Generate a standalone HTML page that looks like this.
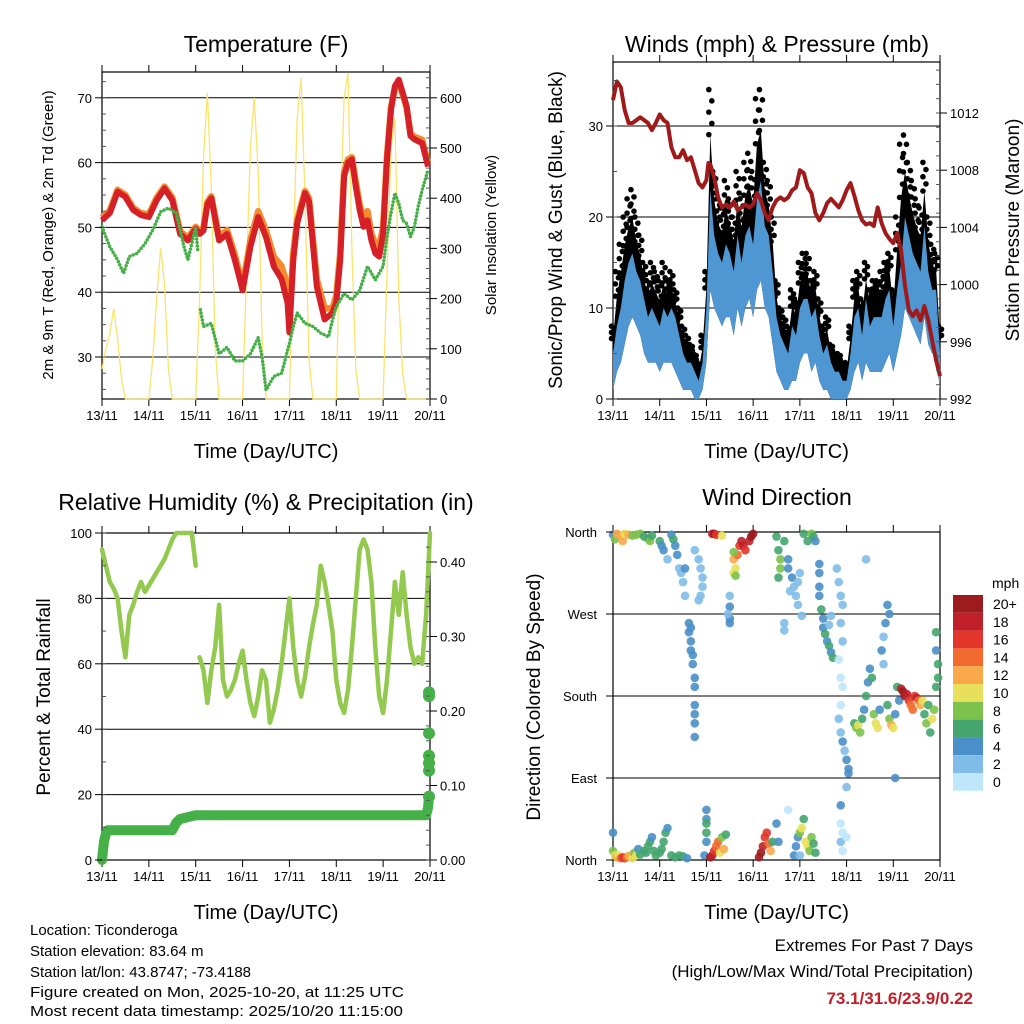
<!DOCTYPE html>
<html><head><meta charset="utf-8">
<style>
html,body{margin:0;padding:0;background:#fff;}
svg{display:block;font-family:"Liberation Sans",sans-serif;}
</style></head>
<body>
<svg id="chart" width="1024" height="1024" viewBox="0 0 1024 1024" xmlns="http://www.w3.org/2000/svg">
<rect x="0" y="0" width="1024" height="1024" fill="#fff"/>
<g id="g1"></g>
<g id="g2"></g>
<g id="g3"></g>
<g id="g4"></g>
<g font-size="15" fill="#000">
<text x="30" y="935">Location: Ticonderoga</text>
<text x="30" y="956">Station elevation: 83.64 m</text>
<text x="30" y="977">Station lat/lon: 43.8747; -73.4188</text>
<text x="30" y="997" textLength="374" lengthAdjust="spacingAndGlyphs">Figure created on Mon, 2025-10-20, at 11:25 UTC</text>
<text x="30" y="1016" textLength="373" lengthAdjust="spacingAndGlyphs">Most recent data timestamp: 2025/10/20 11:15:00</text>
</g>
<g text-anchor="end">
<text x="973" y="951" font-size="17">Extremes For Past 7 Days</text>
<text x="973" y="977" font-size="17">(High/Low/Max Wind/Total Precipitation)</text>
<text x="973" y="1004" font-size="17" font-weight="bold" fill="#c0202a">73.1/31.6/23.9/0.22</text>
</g>
</svg>
<script>
// ---------- DATA ----------
const dayLabels = ["13/11","14/11","15/11","16/11","17/11","18/11","19/11","20/11"];
const tHours = [0,4,8,12,16,20,24,28,32,36,40,44,48,50,52,54,56,60,64,68,72,76,80,84,88,92,95,96,98,100,104,106,110,114,118,120,122,124,126,128,130,132,134,136,138,140,142,144,146,148,150,152,154,156,158,160,164,167];
const temp2m = [51.1,52.2,55.5,54.7,52.7,51.9,51.6,54.2,56,54.2,49,48,49.8,49,49.5,53.6,54.5,48,49,45,40.3,47,51.6,48.5,44,42,38.4,33.8,45,50.6,55.3,54,40.9,35.8,36.8,38.4,45,57.9,60,60.5,56.3,52.7,50.1,51.1,48,46,45.5,49,60.5,68.2,71.8,72.8,70.8,68.7,64.1,63.6,63,59.4];
const temp9m = [51.5,52.6,55.8,55,53,52.2,52,54.6,56.3,54.6,49.4,48.4,50.1,49.4,50,53.9,54.8,48.5,49.6,45.8,41,48,52.5,49.5,45.5,44,41,36,46,51.2,55.6,54.5,42,37.5,37.5,39.5,46,58.5,60.5,60.8,57,53.5,51.5,52.5,49,47.5,47,50,61,68.5,71.5,72.5,70.5,68.5,64.5,64,63.5,60];
const tdHours = [0,4,8,11,14,18,22,26,30,34,38,40,42,44,46,48,49];
const dew2mA = [50.1,47,45,42.9,45.5,46,47.5,49.6,52.4,53,52.2,49.6,47,45,47.5,50.1,46.5];
const tdHoursB = [50.4,52,56,60,64,68,72,76,80,82,84,88,92,96,98,100,104,108,112,116,118,120,124,128,132,136,140,144,146,148,150,152,154,156,158,160,162,164,167];
const dew2mB = [37.3,34.7,35.2,30.5,31.5,29.4,29.4,30.5,33,30,24.9,27,27.5,32.1,34.7,36.8,35.2,34.7,33.7,33.1,35.7,37.8,39.8,38.8,40.3,44,41.9,44,48.6,52.2,55.3,53.7,51.1,50.6,48.6,50.1,53.3,55.8,58.9];
const solarHours = [0,2,4,6,8,10,12,22,24,26,28,30,32,34,36,48,50,52,54,56,58,60,72,74,76,78,80,82,84,96,98,100,102,104,106,108,120,122,124,126,128,130,132,144,146,148,150,152,154,156,168];
const solarVals = [60,100,130,180,120,40,0,0,0,80,200,300,230,60,0,0,200,480,610,420,100,0,0,250,500,600,450,120,0,0,300,560,640,400,80,0,0,350,600,650,300,60,0,0,250,500,560,200,50,0,0];

const wHours = [];
for (let i = 0; i <= 84; i++) wHours.push(i * 2);
const windHi = [5,8,10,13,15,16,14,13,11,9,10,9,8,10,9,10,9,7,5,4,4,3,2,4,10,23,18,16,15,17,16,14,18,15,18,19,17,22,24,19,18,14,9,7,6,5,8,7,10,11,11,9,10,7,5,6,4,3,3,2,2,5,9,10,7,11,8,9,9,9,11,12,8,12,15,20,18,16,15,14,19,14,12,12,5];
const windLo = [1,3,4,6,8,9,8,7,5,4,4,4,3,4,4,4,3,2,1,1,1,0,0,1,4,12,10,9,8,9,9,7,10,8,10,11,9,12,13,10,9,6,3,2,1,1,2,2,4,5,5,3,4,2,1,1,0,0,0,0,0,1,3,4,2,4,3,3,3,3,4,5,3,5,7,10,9,8,7,6,9,6,5,5,1];
const windGust = [8,14,17,20,22,23,20,18,15,13,15,14,13,15,13,14,12,10,8,7,6,5,4,7,14,34,25,22,21,24,22,20,25,22,26,27,25,33,34,26,24,20,13,10,9,8,12,11,15,16,16,13,14,11,8,9,6,5,5,4,4,8,13,14,11,15,12,13,13,14,15,16,12,20,28,29,26,24,22,21,26,20,17,16,8];
const presHours = [0,2,4,6,8,10,12,14,16,18,20,22,24,26,28,30,32,34,36,38,40,42,44,46,48,49,50,52,54,56,58,60,62,64,66,68,70,72,74,76,78,80,82,84,86,88,90,92,94,96,98,100,102,104,106,108,110,112,114,116,118,120,122,124,126,128,130,132,134,136,138,140,142,144,146,148,150,152,154,156,158,160,162,164,166,168];
const pressure = [1012.9,1014.2,1013.8,1012.2,1011.3,1011.3,1011.5,1011.7,1011.5,1011.3,1010.8,1011.3,1011.9,1011.5,1011.3,1009.6,1008.9,1008.9,1009.4,1008.7,1008.9,1008,1007.1,1006.8,1007.3,1008.5,1008.4,1007.5,1006.1,1005.4,1005.6,1005.4,1005.8,1005.2,1005.4,1005.6,1005.4,1005.6,1006.4,1005.9,1005,1004.5,1005.4,1005.9,1006.1,1005.9,1006.1,1006.6,1006.8,1008,1007.8,1006.8,1006.4,1005,1004.5,1005,1005.7,1006,1005.7,1005.4,1005.9,1006.6,1007.1,1006.2,1005.2,1004.5,1004.2,1004.3,1004.1,1005.4,1004.3,1003.6,1003.2,1002.9,1003.6,1002.4,999.9,998.2,997.8,998.2,997.5,998.5,997.5,996.1,994.7,993.6];

const rhHours = [0,2,4,6,8,10,12,14,16,18,20,22,24,26,28,30,32,34,36,38,40,42,44,46,48];
const rhA = [95,90,85,83,80,70,62,75,78,82,85,82,84,86,88,90,92,95,98,100,100,100,100,100,90];
const rhHoursB = [];
for (let i = 25; i <= 84; i++) rhHoursB.push(i * 2);
const rhB = [62,58,48,58,65,78,55,50,52,55,60,64,55,48,44,50,58,55,42,46,52,60,70,80,65,55,50,56,65,72,78,90,85,78,70,55,48,45,52,65,80,95,98,95,85,65,50,45,55,70,85,75,88,75,65,60,62,60,75,100];
const prHours = [0,1,2,3,36,38,40,48,166,167,167.5];
const precipIn = [0,0.025,0.035,0.04,0.04,0.05,0.055,0.06,0.06,0.07,0.085];
const precipDotsIn = [0.085,0.12,0.13,0.14,0.17,0.22,0.225];

const dirPoints = [
[0,357,5],[1,352,8],[2,358,12],[4,356,13],[5,350,12],[6,358,10],[8,357,12],[10,356,9],[12,357,8],[14,358,9],[16,355,7],[18,353,7],[19,350,8],[20,356,6],[24,350,6],[25,345,4],[26,340,4],[30,357,5],[31,352,6],[32,345,4],[33,335,4],[34,320,3],[35,315,3],[36,305,2],[37,290,3],[28,330,3],[37,320,4],
[44,330,2],[45,320,2],[46,310,2],[46,300,2],[45,290,2],[44,285,2],[42,340,2],
[39,260,4],[39,250,4],[40,240,4],[40,230,4],[41,215,4],[42,200,4],[42,190,4],[42,170,4],[42,160,4],[42,150,4],[42,135,4],[40,255,4],[41,225,4],
[51,358,18],[52,358,20],[53,357,16],[56,356,10],
[62,330,12],[63,320,10],[64,335,14],[65,345,16],[66,350,18],[67,345,18],[68,340,16],[70,350,18],[71,355,20],[72,358,20],[62,315,10],[63,312,8],[62,338,8],
[60,278,4],[60,265,4],[60,260,4],[59,270,2],[60,290,2],
[84,355,6],[85,340,6],[86,330,8],[86,320,8],[85,310,6],[88,350,6],[90,330,4],[90,320,4],[92,310,4],[93,300,2],[94,290,2],[95,305,2],[96,315,2],[91,295,2],[88,260,2],[88,252,2],[95,280,2],[97,268,2],[98,358,6],[100,350,6],[102,358,8],[103,355,6],[104,350,4],[106,325,4],[106,315,4],[106,300,4],[106,290,4],
[107,275,6],[108,265,4],[108,255,4],[109,248,6],[110,240,4],[111,235,6],[112,228,4],[113,222,6],[111,258,2],[112,268,2],
[115,320,2],[116,305,2],[117,290,2],[118,280,2],[117,260,2],[118,240,2],[116,220,0],[117,200,0],[118,190,0],[117,170,0],[116,155,2],[117,140,2],[118,130,4],[119,120,2],[120,110,4],[121,100,4],[121,95,4],[120,80,2],[117,60,4],[117,40,0],[118,30,0],[117,20,2],[118,10,0],[120,25,0],[130,330,2],
[124,150,6],[125,145,8],[126,148,10],[127,140,8],[128,155,6],[129,165,4],[130,180,6],[131,195,4],[132,210,4],[133,200,6],[134,160,8],[135,150,10],[136,145,10],[137,165,4],[138,230,4],[139,245,2],[140,260,4],[139,215,2],[141,170,6],[142,155,8],[143,148,12],[144,145,10],[145,160,4],[146,190,6],[147,175,4],[145,90,4],[141,280,4],[142,270,4],
[148,188,18],[149,185,20],[150,180,20],[151,182,18],[152,175,16],[153,170,14],[154,165,14],[155,180,16],[156,178,18],[157,175,14],[158,170,12],[159,175,10],[160,160,6],[161,150,8],[162,170,6],[163,140,6],[164,155,10],[165,165,8],[166,190,6],[166,230,4],[166,250,6],[167,215,6],[167,200,6],
[0,10,8],[1,5,10],[2,3,12],[3,5,10],[4,2,14],[5,3,16],[6,2,16],[7,3,14],[8,4,12],[9,5,12],[10,2,10],[11,8,8],[12,5,10],[13,12,4],[14,6,6],[16,10,6],[17,8,6],[18,15,6],[19,20,6],[20,25,4],[21,10,6],[22,5,6],[24,8,6],[25,12,6],[26,20,6],[27,30,6],[28,35,4],[30,5,6],[32,3,6],[34,5,6],[36,4,6],[38,2,4],[0,30,4],
[47,5,4],[48,20,4],[48,30,6],[48,45,4],[48,55,4],[48,40,6],
[50,3,20],[51,5,18],[52,10,16],[53,15,14],[54,20,14],[55,8,10],[56,25,8],[57,12,12],[58,28,6],
[75,3,20],[76,8,20],[77,15,18],[78,25,16],[79,30,16],[80,18,14],[81,10,12],[82,20,6],[84,40,4],[85,20,4],
[93,5,4],[94,15,4],[95,25,4],[96,30,8],[97,35,10],[98,45,6],[99,20,10],[100,15,10],[101,10,8],[102,25,8],[103,18,6],[104,8,6],[96,5,2],[90,55,0]
];
const speedLevels = ["20+","18","16","14","12","10","8","6","4","2","0"];
const speedColors = ["#9b1b1e","#c0202a","#e2352b","#f26a2d","#f9a84a","#e8e05a","#7cc24c","#44a56e","#4a8fc8","#7fbde8","#bfe6fa"];

// ---------- helpers ----------
const NS = "http://www.w3.org/2000/svg";
function mk(parent, tag, attrs, text) {
  const e = document.createElementNS(NS, tag);
  for (const k in attrs) e.setAttribute(k, attrs[k]);
  if (text !== undefined) e.textContent = text;
  parent.appendChild(e);
  return e;
}
function pts(xs, ys, fx, fy) { return xs.map((h, i) => fx(h).toFixed(1) + "," + fy(ys[i]).toFixed(1)).join(" "); }

function frame(g, x0, y0, x1, y1, gridYs) {
  gridYs.forEach(y => {
    const l = mk(g, "line", {x1: x0, x2: x1, y1: y, y2: y, stroke: "#000", "stroke-width": 1});
    
    
  });
  const r = mk(g, "rect", {x: x0, y: y0, width: x1 - x0, height: y1 - y0, fill: "none", stroke: "#000", "stroke-width": 1.2});
  
  
}
function xAxis(g, x0, x1, y0, y1) {
  const fx = h => x0 + h * (x1 - x0) / 168;
  dayLabels.forEach((d, i) => {
    const x = fx(i * 24);
    mk(g, "line", {x1: x, x2: x, y1: y1, y2: y1 + 7, stroke: "#000"});
    mk(g, "line", {x1: x, x2: x, y1: y0, y2: y0 - 7, stroke: "#000"});
    const t = mk(g, "text", {x: x, y: y1 + 21, "font-size": 13, "text-anchor": "middle"}, d);
    
    
  });
  const xt = mk(g, "text", {x: (x0 + x1) / 2, y: y1 + 59, "font-size": 20, "text-anchor": "middle"}, "Time (Day/UTC)");
  
  
  return fx;
}
function yTicks(g, vals, fy, x, side, fmt, size) {
  vals.forEach(v => {
    const y = fy(v);
    mk(g, "line", {x1: x, x2: x + (side === "l" ? -7 : 7), y1: y, y2: y, stroke: "#000"});
    const t = mk(g, "text", {x: side === "l" ? x - 10 : x + 10, y: y + 5, "font-size": size || 13, "text-anchor": side === "l" ? "end" : "start"}, fmt ? fmt(v) : v);
    
    
  });
}
function minor(g, x, y0, y1, step, dir) {
  for (let y = y0; y <= y1 + 0.1; y += step) mk(g, "line", {x1: x, x2: x + dir * 4, y1: y, y2: y, stroke: "#555"});
}
function vtitle(g, x, y, s, size, name) {
  const t = mk(g, "text", {x: x, y: y, "font-size": size, "text-anchor": "middle", transform: "rotate(-90 " + x + " " + y + ")"}, s);
  
  
}
function title(g, x, y, s) {
  const t = mk(g, "text", {x: x, y: y, "font-size": 23, "text-anchor": "middle"}, s);
  
  
}

// ---------- Panel 1: temperature ----------
(function () {
  const g = document.getElementById("g1");
  const X0 = 102, X1 = 430, Y0 = 72, Y1 = 399;
  const fy = t => 357 - (t - 30) * 6.48;
  const fs = s => 399 - s * 0.502;
  frame(g, X0, Y0, X1, Y1, [70, 60, 50, 40, 30].map(fy));
  const fx = xAxis(g, X0, X1, Y0, Y1);
  const sol = mk(g, "polyline", {points: pts(solarHours, solarVals, fx, fs), fill: "none", stroke: "#fbe36c", "stroke-width": 1.3});
  
  
  const o = mk(g, "polyline", {points: pts(tHours, temp9m, fx, fy), fill: "none", stroke: "#f58a2e", "stroke-width": 6.5, "stroke-linejoin": "round"});
  
  
  const r = mk(g, "polyline", {points: pts(tHours, temp2m, fx, fy), fill: "none", stroke: "#d42026", "stroke-width": 6, "stroke-linejoin": "round"});
  
  
  [[tdHours, dew2mA], [tdHoursB, dew2mB]].forEach(([hs, vs]) => {
    const d = mk(g, "polyline", {points: pts(hs, vs, fx, fy), fill: "none", stroke: "#46b048", "stroke-width": 3.5, "stroke-dasharray": "0 3.5", "stroke-linecap": "round"});
    
    
  });
  yTicks(g, [30, 40, 50, 60, 70], fy, X0, "l");
  minor(g, X0, fy(72.5), fy(25), 6.48 * 2.5, 1);
  yTicks(g, [0, 100, 200, 300, 400, 500, 600], fs, X1, "r");
  minor(g, X1, fs(640), fs(0), 0.502 * 20, -1);
  title(g, 266, 52, "Temperature (F)");
  vtitle(g, 53, 235, "2m & 9m T (Red, Orange) & 2m Td (Green)", 15, 'y-axis-title');
  vtitle(g, 496, 235, "Solar Insolation (Yellow)", 15, 'right-y-axis-title');
})();

// ---------- Panel 2: winds ----------
(function () {
  const g = document.getElementById("g2");
  const X0 = 613, X1 = 940, Y0 = 62, Y1 = 399;
  const fy = v => 399 - v * 9.1;
  const fp = p => 399 - (p - 992) * 14.3;
  frame(g, X0, Y0, X1, Y1, [10, 20, 30].map(fy));
  const fx = xAxis(g, X0, X1, Y0, Y1);
  const mid = windGust.map((v, i) => windHi[i] + (v - windHi[i]) * 0.55);
  const black = mk(g, "polygon", {points: pts(wHours, mid, fx, fy) + " " + pts(wHours.slice().reverse(), windLo.slice().reverse(), fx, fy), fill: "#000"});
  
  
  windGust.forEach((v, i) => {
    const n = 4;
    for (let k = 0; k <= n; k++) {
      const val = mid[i] + (v - mid[i]) * k / n;
      const c = mk(g, "circle", {cx: fx(wHours[i]) + (k % 2 ? 1.5 : -1.5), cy: fy(val), r: 2.8, fill: "#000"});
      
      
    }
  });
  const blue = mk(g, "polygon", {points: pts(wHours, windHi, fx, fy) + " " + pts(wHours.slice().reverse(), windLo.slice().reverse(), fx, fy), fill: "#4f97d2"});
  
  
  const p = mk(g, "polyline", {points: pts(presHours, pressure, fx, fp), fill: "none", stroke: "#a01a1c", "stroke-width": 4, "stroke-linejoin": "round"});
  
  
  yTicks(g, [0, 10, 20, 30], fy, X0, "l");
  minor(g, X0, fy(35), fy(0), 9.1 * 5, 1);
  yTicks(g, [992, 996, 1000, 1004, 1008, 1012], fp, X1, "r");
  minor(g, X1, fp(1015), fp(992), 14.3, -1);
  title(g, 777, 52, "Winds (mph) & Pressure (mb)");
  vtitle(g, 562, 230, "Sonic/Prop Wind & Gust (Blue, Black)", 19, 'y-axis-title');
  vtitle(g, 1019, 230, "Station Pressure (Maroon)", 19, 'right-y-axis-title');
})();

// ---------- Panel 3: RH ----------
(function () {
  const g = document.getElementById("g3");
  const X0 = 102, X1 = 430, Y0 = 533, Y1 = 860;
  const fy = r => 860 - r * 3.27;
  const fp = p => 860 - p * 745;
  frame(g, X0, Y0, X1, Y1, [20, 40, 60, 80, 100].map(fy));
  const fx = xAxis(g, X0, X1, Y0, Y1);
  [[rhHours, rhA], [rhHoursB, rhB]].forEach(([hs, vs]) => {
    const l = mk(g, "polyline", {points: pts(hs, vs, fx, fy), fill: "none", stroke: "#92c94e", "stroke-width": 4.5, "stroke-linejoin": "round", "stroke-linecap": "round"});
    
    
  });
  const pl = mk(g, "polyline", {points: pts(prHours, precipIn, fx, fp), fill: "none", stroke: "#46b048", "stroke-width": 10, "stroke-linejoin": "round", "stroke-linecap": "round"});
  
  
  precipDotsIn.forEach(v => {
    const c = mk(g, "circle", {cx: fx(167.5), cy: fp(v), r: 6, fill: "#46b048"});
    
    
  });
  yTicks(g, [0, 20, 40, 60, 80, 100], fy, X0, "l");
  minor(g, X0, fy(100), fy(0), 3.27 * 10, 1);
  yTicks(g, [0, 0.1, 0.2, 0.3, 0.4], fp, X1, "r", v => v.toFixed(2));
  minor(g, X1, fp(0.42), fp(0), 745 * 0.02, -1);
  title(g, 266, 510, "Relative Humidity (%) & Precipitation (in)");
  vtitle(g, 50, 697, "Percent & Total Rainfall", 19, 'y-axis-title');
})();

// ---------- Panel 4: wind direction ----------
(function () {
  const g = document.getElementById("g4");
  const X0 = 613, X1 = 940, Y0 = 532, Y1 = 860;
  const fy = d => 860 - d * (328 / 360);
  frame(g, X0, Y0, X1, Y1, [90, 180, 270, 360].map(fy));
  const fx = xAxis(g, X0, X1, Y0, Y1);
  const colorFor = s => speedColors[Math.max(0, Math.min(10, 10 - Math.floor(s / 2)))];
  dirPoints.forEach(p => {
    const c = mk(g, "circle", {cx: fx(p[0]), cy: fy(p[1]), r: 4.3, fill: colorFor(p[2]), "fill-opacity": 0.9});
    
    
  });
  const dirLabels = ["North", "East", "South", "West", "North"];
  [0, 90, 180, 270, 360].forEach((d, i) => {
    const y = fy(d);
    mk(g, "line", {x1: X0, x2: X0 - 7, y1: y, y2: y, stroke: "#000"});
    const t = mk(g, "text", {x: X0 - 16, y: y + 5, "font-size": 13, "text-anchor": "end"}, dirLabels[i]);
    
    
  });
  title(g, 777, 505, "Wind Direction");
  vtitle(g, 540, 697, "Direction (Colored By Speed)", 19, 'y-axis-title');
  const lg = mk(g, "g", {});
  
  
  const u = mk(lg, "text", {x: 992, y: 588, "font-size": 14}, "mph");
  
  
  speedLevels.forEach((lab, i) => {
    const y = 595 + i * 17.8;
    const r = mk(lg, "rect", {x: 953, y: y, width: 30, height: 17.8, fill: speedColors[i]});
    
    
    const t = mk(lg, "text", {x: 993, y: y + 14, "font-size": 14}, lab);
    
    
  });
})();
</script>
</body></html>
